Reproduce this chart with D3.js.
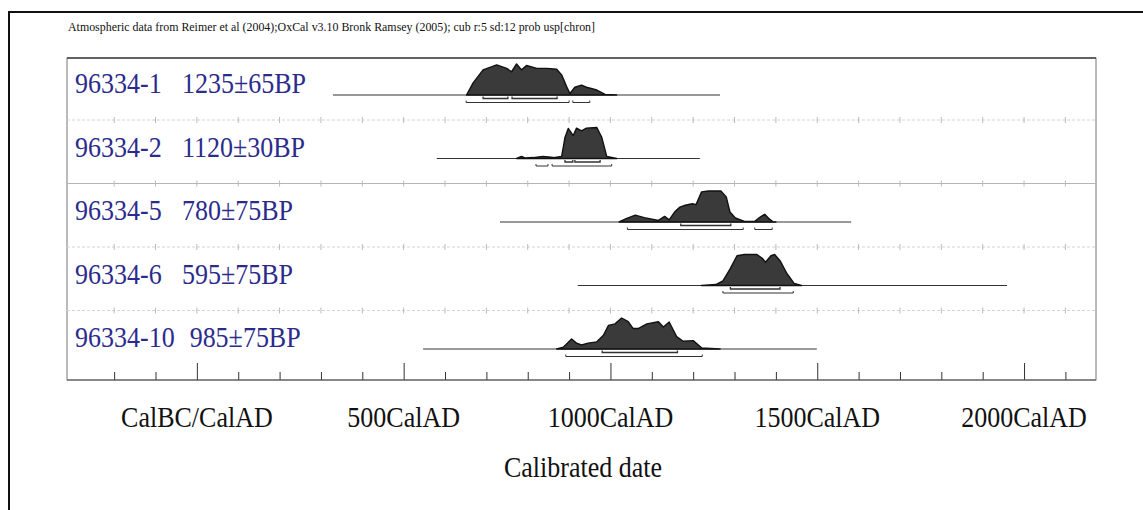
<!DOCTYPE html>
<html>
<head>
<meta charset="utf-8">
<script src="https://cdn.jsdelivr.net/npm/d3@7"></script>
<style>
  body { margin: 0; background: #fff; }
  svg { display: block; }
</style>
</head>
<body>
<div id="chart"></div>
<script>
// ---- data ----
var titleText = "Atmospheric data from Reimer et al (2004);OxCal v3.10 Bronk Ramsey (2005); cub r:5 sd:12 prob usp[chron]";
var sampleIds = ["96334-1", "96334-2", "96334-5", "96334-6", "96334-10"];
var bpLabels = ["1235\u00b165BP", "1120\u00b130BP", "780\u00b175BP", "595\u00b175BP", "985\u00b175BP"];

// extent of the calibration line drawn under each distribution (cal years AD)
var lineStart = [329, 580, 733, 921, 547];
var lineEnd = [1265, 1216, 1582, 1959, 1499];

// probability distributions (year, relative probability)
var probYears = [
  [652, 668, 692, 725, 749, 761, 773, 785, 797, 822, 846, 870, 882, 894, 902, 914, 930, 942, 967, 987, 1015],
  [773, 785, 793, 813, 837, 862, 882, 886, 890, 898, 910, 918, 930, 942, 967, 979, 991, 1015],
  [1021, 1038, 1060, 1082, 1116, 1131, 1142, 1155, 1168, 1181, 1198, 1207, 1220, 1237, 1267, 1280, 1289, 1302, 1324, 1349, 1362, 1373, 1384, 1393, 1400],
  [1220, 1255, 1272, 1289, 1306, 1324, 1354, 1367, 1375, 1388, 1397, 1410, 1427, 1444, 1462],
  [870, 886, 906, 918, 930, 946, 967, 983, 995, 1011, 1027, 1043, 1055, 1067, 1088, 1116, 1128, 1142, 1160, 1176, 1200, 1221, 1265]
];
var probValues = [
  [0, 0.39, 0.81, 0.97, 0.86, 0.75, 1.0, 0.81, 0.95, 0.86, 0.86, 0.83, 0.65, 0.27, 0.05, 0.25, 0.32, 0.25, 0.16, 0.02, 0],
  [0, 0.07, 0.02, 0.03, 0.07, 0.03, 0.07, 0.37, 0.68, 0.97, 0.74, 0.98, 0.89, 0.98, 1.0, 0.68, 0.07, 0],
  [0, 0.11, 0.22, 0.14, 0.05, 0.18, 0.07, 0.32, 0.48, 0.54, 0.59, 0.56, 0.97, 1.0, 1.0, 0.81, 0.32, 0.13, 0.02, 0.02, 0.16, 0.25, 0.1, 0.01, 0],
  [0, 0.03, 0.15, 0.53, 0.96, 1.0, 1.0, 0.88, 0.75, 0.96, 1.0, 0.8, 0.38, 0.07, 0],
  [0, 0.06, 0.32, 0.19, 0.13, 0.19, 0.23, 0.44, 0.76, 0.81, 1.0, 0.88, 0.66, 0.66, 0.81, 0.88, 0.71, 0.87, 0.4, 0.25, 0.27, 0.03, 0]
];

// 68.2% and 95.4% ranges
var range68 = [
  [[692, 752], [762, 871]],
  [[890, 909], [914, 975]],
  [[1170, 1291]],
  [[1290, 1410]],
  [[980, 1162]]
];
var range95 = [
  [[651, 900], [909, 950]],
  [[820, 849], [859, 1003]],
  [[1041, 1321], [1349, 1391]],
  [[1272, 1442]],
  [[892, 1222]]
];

var tickYears = [-200, -100, 0, 100, 200, 300, 400, 500, 600, 700, 800, 900, 1000,
                 1100, 1200, 1300, 1400, 1500, 1600, 1700, 1800, 1900, 2000, 2100];
var majorYears = [0, 500, 1000, 1500, 2000];
var majorLabels = ["CalBC/CalAD", "500CalAD", "1000CalAD", "1500CalAD", "2000CalAD"];
var axisTitle = "Calibrated date";

// ---- layout ----
var width = 1143, height = 510;
var frame = {left: 67, top: 58, right: 1096, bottom: 380};
var serif = "'Liberation Serif', 'Times New Roman', serif";
var labelBlue = "#2b2b8c";

var svg = d3.select("#chart").append("svg")
    .attr("width", width)
    .attr("height", height);

// outer border (left + top only visible)
svg.append("path")
    .attr("d", "M9," + height + "V12H" + width)
    .attr("fill", "none")
    .attr("stroke", "#111")
    .attr("stroke-width", 2);

var x = d3.scaleLinear().domain([-314, 2174]).range([frame.left, frame.right]);
var yRow = d3.scaleLinear().domain([0, sampleIds.length - 1]).range([95, 349]);
var h = d3.scaleLinear().domain([0, 1]).range([0, 31]);

// title
svg.append("text")
    .attr("x", 68)
    .attr("y", 31)
    .attr("font-family", serif)
    .attr("font-size", 12.5)
    .attr("textLength", 527)
    .attr("lengthAdjust", "spacingAndGlyphs")
    .attr("fill", "#111")
    .text(titleText);

// plot frame
svg.append("rect")
    .attr("x", frame.left)
    .attr("y", frame.top)
    .attr("width", frame.right - frame.left)
    .attr("height", frame.bottom - frame.top)
    .attr("fill", "none")
    .attr("stroke", "#777")
    .attr("stroke-width", 1);
svg.append("line")
    .attr("x1", frame.left).attr("x2", frame.right)
    .attr("y1", frame.top).attr("y2", frame.top)
    .attr("stroke", "#444").attr("stroke-width", 1.5);

// row separators with small ticks
for (var s = 0; s < sampleIds.length - 1; s++) {
    var sy = yRow(s) + 25;
    var g = svg.append("g").attr("transform", "translate(0," + sy + ")");
    g.append("line")
        .attr("x1", frame.left).attr("x2", frame.right)
        .attr("stroke", s === 1 ? "#b5b5b5" : "#d4d4d4")
        .attr("stroke-dasharray", s === 1 ? null : "3,2");
    g.selectAll("line.t")
        .data(tickYears)
        .enter().append("line")
        .attr("class", "t")
        .attr("x1", function(d) { return x(d); })
        .attr("x2", function(d) { return x(d); })
        .attr("y1", -3).attr("y2", 3)
        .attr("stroke", "#bbb");
}

// rows
var area = d3.area()
    .x(function(d) { return x(d[0]); })
    .y0(0)
    .y1(function(d) { return -h(d[1]); })
    .curve(d3.curveLinear);

sampleIds.forEach(function(id, i) {
    var row = svg.append("g").attr("transform", "translate(0," + yRow(i) + ")");

    var idText = row.append("text")
        .attr("transform", "translate(75,-2) scale(1,1.12)")
        .attr("font-family", serif)
        .attr("font-size", 26)
        .attr("fill", labelBlue)
        .text(id);
    var idEnd = 75 + idText.node().getComputedTextLength();
    row.append("text")
        .attr("transform", "translate(" + Math.max(182, idEnd + 15) + ",-2) scale(1,1.12)")
        .attr("font-family", serif)
        .attr("font-size", 26)
        .attr("fill", labelBlue)
        .text(bpLabels[i]);

    // calibration line
    row.append("line")
        .attr("x1", x(lineStart[i])).attr("x2", x(lineEnd[i]))
        .attr("stroke", "#333").attr("stroke-width", 1);

    var pts = probYears[i].map(function(yr, k) { return [yr, probValues[i][k]]; });
    row.append("path")
        .datum(pts)
        .attr("d", area)
        .attr("fill", "#3a3a3a")
        .attr("stroke", "#111")
        .attr("stroke-width", 1.4)
        .attr("stroke-linejoin", "round");

    // range bars
    function bars(ranges, dy, sw) {
        ranges.forEach(function(r) {
            row.append("path")
                .attr("d", "M" + x(r[0]) + "," + (dy - 2) + "V" + dy + "H" + x(r[1]) + "V" + (dy - 2))
                .attr("fill", "none")
                .attr("stroke", "#333")
                .attr("stroke-width", sw);
        });
    }
    bars(range68[i], 3.5, 1.3);
    bars(range95[i], 7.5, 1);
});

// bottom axis
var axis = svg.append("g")
    .attr("transform", "translate(0," + frame.bottom + ")")
    .call(d3.axisTop(x).tickValues(tickYears).tickSize(8).tickFormat(""));
axis.select(".domain").remove();
axis.selectAll(".tick line")
    .attr("stroke", "#333")
    .attr("y2", function(d) { return majorYears.indexOf(d) >= 0 ? -17 : -8; });
svg.append("line")
    .attr("x1", frame.left).attr("x2", frame.right)
    .attr("y1", frame.bottom).attr("y2", frame.bottom)
    .attr("stroke", "#555");

svg.selectAll("text.major")
    .data(majorYears)
    .enter().append("text")
    .attr("class", "major")
    .attr("transform", function(d) { return "translate(" + x(d) + ",427) scale(1,1.1)"; })
    .attr("text-anchor", "middle")
    .attr("font-family", serif)
    .attr("font-size", 26)
    .attr("fill", "#111")
    .text(function(d, k) { return majorLabels[k]; });

svg.append("text")
    .attr("transform", "translate(583,477) scale(1,1.1)")
    .attr("text-anchor", "middle")
    .attr("font-family", serif)
    .attr("font-size", 26)
    .attr("fill", "#111")
    .text(axisTitle);
</script>
</body>
</html>
